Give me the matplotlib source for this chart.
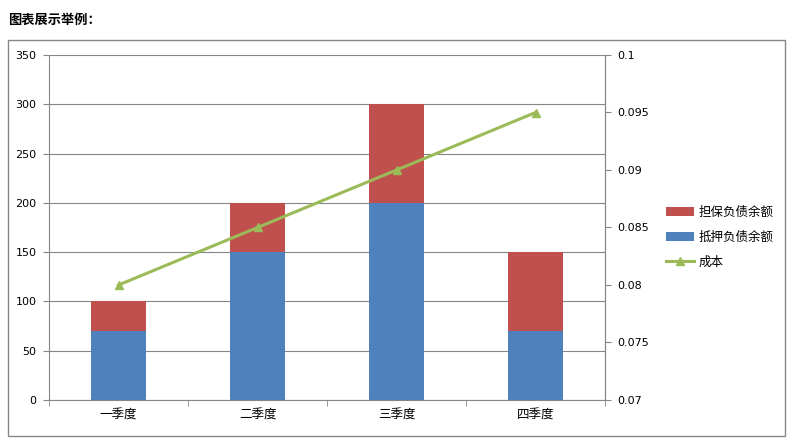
import numpy as np
import matplotlib.pyplot as plt
from matplotlib.patches import Rectangle

plt.rcParams['font.family'] = ['DejaVu Sans', 'Noto Sans CJK SC']

# data
quarters = ['一季度', '二季度', '三季度', '四季度']
mortgage = [70, 150, 200, 70]      # 抵押负债余额
guarantee = [30, 50, 100, 80]      # 担保负债余额
cost = [0.080, 0.085, 0.090, 0.095]  # 成本

blue = '#4F81BD'
red = '#C0504D'
green = '#9BBB59'
grid_c = '#868686'
cjk = ['Noto Sans CJK SC', 'DejaVu Sans']

fig = plt.figure(figsize=(7.95, 4.45), dpi=100)

# outer chart frame
fig.patches.append(Rectangle((8 / 795, 9 / 445), 777 / 795, 396 / 445,
                             transform=fig.transFigure, fill=False,
                             edgecolor='#868686', linewidth=1.0))
fig.text(8 / 795, 1 - 20 / 445, '图表展示举例：', fontsize=9.5, fontweight='bold',
         family=cjk, va='center', ha='left')

ax = fig.add_axes([49 / 795, 1 - 400 / 445, 556 / 795, 345 / 445])
x = np.arange(len(quarters))
b1 = ax.bar(x, mortgage, width=0.4, color=blue, zorder=2)
b2 = ax.bar(x, guarantee, width=0.4, bottom=mortgage, color=red, zorder=2)

ax.set_xlim(-0.5, 3.5)
ax.set_ylim(0, 350)
ax.set_yticks(np.arange(0, 351, 50))
ax.yaxis.grid(True, color=grid_c, linewidth=0.8, zorder=0)
ax.set_xticks(x)
ax.set_xticklabels(quarters, family=cjk, fontsize=9)
ax.set_xticks(np.arange(-0.5, 4, 1), minor=True)
ax.tick_params(axis='x', which='major', length=0, pad=6)
ax.tick_params(axis='x', which='minor', length=4, color=grid_c, direction='out')
ax.tick_params(axis='y', length=4, color=grid_c, labelsize=8, pad=5)
ax.spines['top'].set_visible(False)
for s in ['left', 'bottom', 'right']:
    ax.spines[s].set_color(grid_c)

ax2 = ax.twinx()
ln, = ax2.plot(x, cost, color=green, linewidth=2.2, marker='^', markersize=6,
               zorder=3)
ax2.set_ylim(0.07, 0.1)
ax2.set_yticks(np.arange(0.07, 0.1001, 0.005))
ax2.set_yticklabels(['0.07', '0.075', '0.08', '0.085', '0.09', '0.095', '0.1'])
ax2.tick_params(axis='y', length=4, color=grid_c, labelsize=8, pad=5)
for s in ['top', 'left', 'bottom']:
    ax2.spines[s].set_visible(False)
ax2.spines['right'].set_color(grid_c)

fig.legend([b2, b1, ln], ['担保负债余额', '抵押负债余额', '成本'],
           loc='center left', bbox_to_anchor=(655 / 795, 1 - 237 / 445),
           frameon=False, handlelength=2.2, labelspacing=0.95,
           handletextpad=0.4, prop={'family': cjk, 'size': 9})

fig.savefig('out.png', dpi=100)
